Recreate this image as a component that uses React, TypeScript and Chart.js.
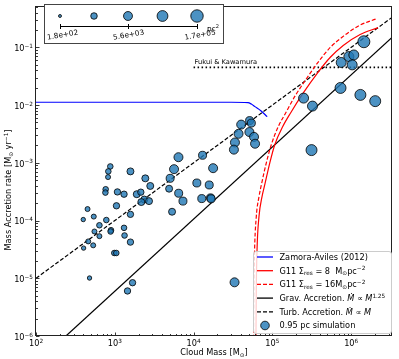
import React, { useEffect, useRef } from 'react';
import { Chart, registerables } from 'chart.js';

Chart.register(...registerables);

// ---------------- data ----------------
const X_MIN = 100;
const X_MAX = 3.3e6;
const Y_MIN = 1e-6;
const Y_MAX = 0.5;

const xTickExps = [2, 3, 4, 5, 6];
const yTickExps = [-6, -5, -4, -3, -2, -1];

const zamoraMass = [100, 3e4, 4.9e4, 5.4e4, 6.0e4, 7.2e4, 8.6e4];
const zamoraRate = [0.0112, 0.0112, 0.0110, 0.0104, 0.0094, 0.0079, 0.0063];

const g11Res8Mass = [6.19e4, 6.25e4, 6.38e4, 6.76e4, 7.38e4, 8.05e4, 9.31e4, 1.075e5, 1.355e5, 1.71e5, 2.42e5, 3.73e5, 5.44e5, 7.93e5, 1.3e6, 2.19e6];
const g11Res8Rate = [9e-7, 6.0e-6, 2.93e-5, 1.17e-4, 2.57e-4, 4.3e-4, 1.02e-3, 2.08e-3, 4.25e-3, 7.38e-3, 1.56e-2, 3.58e-2, 6.73e-2, 0.108, 0.167, 0.22];

const g11Res16Mass = [5.77e4, 5.82e4, 5.94e4, 6.25e4, 6.76e4, 7.38e4, 8.41e4, 9.71e4, 1.19e5, 1.48e5, 1.98e5, 2.64e5, 3.73e5, 5.44e5, 7.93e5, 1.26e6, 2.12e6];
const g11Res16Rate = [9e-7, 6.0e-6, 2.93e-5, 1.17e-4, 2.57e-4, 4.65e-4, 1.02e-3, 2.08e-3, 4.25e-3, 7.38e-3, 1.5e-2, 2.72e-2, 5.32e-2, 0.1, 0.155, 0.238, 0.314];

const gravMass = [240, 3.3e6];
const gravRate = [1e-6, 0.148];

const turbMass = [100, 3.3e6];
const turbRate = [1e-5, 0.33];

const fukuiMass = [1e4, 3.3e6];
const fukuiRate = [0.045, 0.045];

// 0.95 pc simulation: mass [Msun], accretion rate [Msun/yr], area [pc^2]
const simMass = [
  877, 828, 821, 1580, 6430, 1.3e4, 5650, 1.77e4, 2440, 5040,
  2820, 766, 760, 1080, 1310, 1900, 2140, 4890, 6470, 1.1e4,
  1.58e4, 2370, 2170, 2720, 7330, 1.27e4, 1.64e4, 1.67e4, 1050, 5330,
  1580, 451, 541, 398, 781, 638, 1310, 552, 895, 885,
  1330, 460, 638, 532, 402, 1580, 986, 1045, 478, 1680,
  1450, 3.31e4, 4.02e4, 5.14e4, 5.41e4, 3.72e4, 5.11e4, 5.85e4, 3.35e4, 6.03e4,
  3.25e4, 2.49e5, 3.23e5, 3.14e5, 7.33e5, 1.31e6, 2.02e6, 1.45e6, 7.48e5, 9.35e5,
  1.08e6, 1.03e6,
];
const simRate = [
  8.65e-4, 7.1e-4, 5.66e-4, 7.1e-4, 1.25e-3, 1.35e-3, 7.76e-4, 8.07e-4, 5.38e-4, 5.38e-4,
  3.97e-4, 3.48e-4, 3.05e-4, 3.13e-4, 2.86e-4, 2.86e-4, 3.1e-4, 3.56e-4, 2.97e-4, 4.47e-4,
  4.13e-4, 2.31e-4, 2.09e-4, 2.17e-4, 2.17e-4, 2.4e-4, 2.47e-4, 2.38e-4, 1.8e-4, 1.42e-4,
  1.28e-4, 1.58e-4, 1.17e-4, 1.04e-4, 1.02e-4, 8.28e-5, 7.47e-5, 6.46e-5, 6.8e-5, 6.46e-5,
  5.51e-5, 4.35e-5, 5.36e-5, 3.72e-5, 3.33e-5, 4.23e-5, 2.74e-5, 2.74e-5, 1.01e-5, 8.38e-6,
  6.03e-6, 8.51e-6, 4.59e-3, 5.38e-3, 4.88e-3, 3.18e-3, 3.41e-3, 2.81e-3, 2.25e-3, 2.14e-3,
  1.69e-3, 1.32e-2, 9.6e-3, 1.66e-3, 1.98e-2, 1.5e-2, 1.17e-2, 0.125, 0.0547, 0.0692,
  0.0738, 0.0497,
];
const simArea = [
  570, 570, 420, 1330, 5900, 2700, 5900, 5900, 1330, 2700,
  1330, 570, 570, 900, 900, 1330, 900, 1330, 2700, 2700,
  2700, 1330, 1330, 1330, 2700, 2700, 2700, 2700, 900, 1330,
  900, 420, 420, 314, 570, 570, 570, 420, 570, 570,
  570, 420, 420, 420, 314, 900, 570, 570, 314, 900,
  900, 5900, 5900, 2700, 2700, 5900, 5900, 5900, 5900, 5900,
  5900, 14000, 14000, 36000, 36000, 36000, 36000, 1e5, 14000, 14000,
  14000, 14000,
];

const sizeLegendValues = [180, 1000, 5600, 31000, 170000];
const sizeLegendLabels = ['1.8e+02', '5.6e+03', '1.7e+05'];

// ---------------- styling helpers ----------------
const FONT = '"DejaVu Sans", sans-serif';
const PT_FILL = 'rgba(31,119,180,0.8)';
const PT_EDGE = 'rgba(0,0,0,0.8)';

const radiusOf = (a: number) => Math.sqrt(4 + 13.9 * (Math.log10(a) - 2.26));

type Seg = { t: string; k?: 'sub' | 'sup'; it?: boolean };

function setFont(ctx: CanvasRenderingContext2D, s: Seg, size: number) {
  const fs = s.k ? size * 0.7 : size;
  ctx.font = `${s.it ? 'italic ' : ''}${fs}px ${FONT}`;
}

function richWidth(ctx: CanvasRenderingContext2D, segs: Seg[], size: number) {
  let w = 0;
  for (const s of segs) {
    setFont(ctx, s, size);
    w += ctx.measureText(s.t).width;
  }
  return w;
}

function drawRich(
  ctx: CanvasRenderingContext2D,
  segs: Seg[],
  x: number,
  cy: number,
  size: number,
  align: 'left' | 'center' | 'right',
  color = '#000'
) {
  const w = richWidth(ctx, segs, size);
  let cx = align === 'left' ? x : align === 'center' ? x - w / 2 : x - w;
  const base = cy + size * 0.36;
  ctx.fillStyle = color;
  ctx.textAlign = 'left';
  ctx.textBaseline = 'alphabetic';
  for (const s of segs) {
    setFont(ctx, s, size);
    const dy = s.k === 'sub' ? size * 0.22 : s.k === 'sup' ? -size * 0.42 : 0;
    ctx.fillText(s.t, cx, base + dy);
    cx += ctx.measureText(s.t).width;
  }
}

const sup = (n: number) => (n < 0 ? '\u2212' + Math.abs(n) : String(n));

const legendItems: { segs: Seg[]; color: string; dash: number[]; marker?: boolean }[] = [
  { segs: [{ t: 'Zamora-Aviles (2012)' }], color: '#0000ff', dash: [] },
  {
    segs: [{ t: 'G11 \u03A3' }, { t: 'res', k: 'sub' }, { t: ' = 8  M' }, { t: '\u2299', k: 'sub' }, { t: 'pc' }, { t: '\u22122', k: 'sup' }],
    color: '#ff0000',
    dash: [],
  },
  {
    segs: [{ t: 'G11 \u03A3' }, { t: 'res', k: 'sub' }, { t: ' = 16M' }, { t: '\u2299', k: 'sub' }, { t: 'pc' }, { t: '\u22122', k: 'sup' }],
    color: '#ff0000',
    dash: [4, 2],
  },
  {
    segs: [{ t: 'Grav. Accretion. ' }, { t: 'M\u0307', it: true }, { t: ' \u221D ' }, { t: 'M', it: true }, { t: '1.25', k: 'sup' }],
    color: '#000',
    dash: [],
  },
  {
    segs: [{ t: 'Turb. Accretion. ' }, { t: 'M\u0307', it: true }, { t: ' \u221D ' }, { t: 'M', it: true }],
    color: '#000',
    dash: [4, 2],
  },
  { segs: [{ t: '0.95 pc simulation' }], color: PT_FILL, dash: [], marker: true },
];

function roundRect(ctx: CanvasRenderingContext2D, x: number, y: number, w: number, h: number, r: number) {
  ctx.beginPath();
  ctx.moveTo(x + r, y);
  ctx.lineTo(x + w - r, y);
  ctx.quadraticCurveTo(x + w, y, x + w, y + r);
  ctx.lineTo(x + w, y + h - r);
  ctx.quadraticCurveTo(x + w, y + h, x + w - r, y + h);
  ctx.lineTo(x + r, y + h);
  ctx.quadraticCurveTo(x, y + h, x, y + h - r);
  ctx.lineTo(x, y + r);
  ctx.quadraticCurveTo(x, y, x + r, y);
  ctx.closePath();
}

const decorPlugin = {
  id: 'decor',
  afterDraw(chart: any) {
    const ctx: CanvasRenderingContext2D = chart.ctx;
    const xs = chart.scales.x;
    const ys = chart.scales.y;
    const { left, right, top, bottom } = chart.chartArea;
    ctx.save();

    // minor / major ticks (inward, left & bottom)
    ctx.strokeStyle = '#222';
    ctx.lineWidth = 0.9;
    ctx.beginPath();
    for (let e = Math.floor(Math.log10(X_MIN)); e <= Math.ceil(Math.log10(X_MAX)); e++) {
      for (let k = 1; k <= 9; k++) {
        const v = k * Math.pow(10, e);
        if (v < X_MIN * 0.999 || v > X_MAX) continue;
        const px = Math.round(xs.getPixelForValue(v)) + 0.5;
        const len = k === 1 ? 3.5 : 2;
        ctx.moveTo(px, bottom);
        ctx.lineTo(px, bottom - len);
      }
    }
    for (let e = Math.floor(Math.log10(Y_MIN)); e <= Math.ceil(Math.log10(Y_MAX)); e++) {
      for (let k = 1; k <= 9; k++) {
        const v = k * Math.pow(10, e);
        if (v < Y_MIN * 0.999 || v > Y_MAX) continue;
        const py = Math.round(ys.getPixelForValue(v)) + 0.5;
        const len = k === 1 ? 3.5 : 2;
        ctx.moveTo(left, py);
        ctx.lineTo(left + len, py);
      }
    }
    ctx.stroke();

    // frame
    ctx.strokeStyle = '#222';
    ctx.lineWidth = 1;
    ctx.strokeRect(Math.round(left) - 0.5, Math.round(top) - 0.5, Math.round(right - left), Math.round(bottom - top));

    // tick labels
    const fs = 8.2;
    for (const e of xTickExps) {
      const px = xs.getPixelForValue(Math.pow(10, e));
      drawRich(ctx, [{ t: '10' }, { t: sup(e), k: 'sup' }], px, bottom + 7.5, fs, 'center');
    }
    for (const e of yTickExps) {
      const py = ys.getPixelForValue(Math.pow(10, e));
      drawRich(ctx, [{ t: '10' }, { t: sup(e), k: 'sup' }], left - 3, py + 1, fs, 'right');
    }

    // axis titles
    drawRich(ctx, [{ t: 'Cloud Mass [M' }, { t: '\u2299', k: 'sub' }, { t: ']' }], (left + right) / 2, 352, fs, 'center');
    ctx.save();
    ctx.translate(8.5, 190);
    ctx.rotate(-Math.PI / 2);
    drawRich(
      ctx,
      [{ t: 'Mass Accretion rate [M' }, { t: '\u2299', k: 'sub' }, { t: ' yr' }, { t: '\u22121', k: 'sup' }, { t: ']' }],
      0,
      0,
      fs,
      'center'
    );
    ctx.restore();

    // Fukui & Kawamura label
    drawRich(
      ctx,
      [{ t: 'Fukui & Kawamura' }],
      xs.getPixelForValue(fukuiMass[0]) + 1,
      ys.getPixelForValue(fukuiRate[0]) - 6,
      6.7,
      'left'
    );

    // size legend (top-left)
    const bx = 44, by = 4, bw = 179, bh = 39;
    ctx.fillStyle = '#fff';
    ctx.fillRect(bx, by, bw, bh);
    ctx.strokeStyle = '#444';
    ctx.lineWidth = 1;
    ctx.strokeRect(bx + 0.5, by + 0.5, bw, bh);
    const cxs = [60, 94, 128, 162.5, 197];
    sizeLegendValues.forEach((v, i) => {
      ctx.beginPath();
      ctx.arc(cxs[i], 16, radiusOf(v) - 0.5, 0, Math.PI * 2);
      ctx.fillStyle = PT_FILL;
      ctx.fill();
      ctx.strokeStyle = PT_EDGE;
      ctx.lineWidth = 1;
      ctx.stroke();
    });
    ctx.strokeStyle = '#000';
    ctx.lineWidth = 1;
    ctx.beginPath();
    ctx.moveTo(60, 26.5);
    ctx.lineTo(197, 26.5);
    for (const tx of [60, 128, 197]) {
      ctx.moveTo(tx + 0.5, 24);
      ctx.lineTo(tx + 0.5, 29);
    }
    ctx.stroke();
    const lblX = [62.5, 128.5, 200];
    sizeLegendLabels.forEach((s, i) => {
      ctx.save();
      ctx.translate(lblX[i], 34.5);
      ctx.rotate(-10 * Math.PI / 180);
      drawRich(ctx, [{ t: s }], 0, 0, 7.3, 'center');
      ctx.restore();
    });
    drawRich(ctx, [{ t: 'pc' }, { t: '2', k: 'sup' }], 207, 28, 7.3, 'left');

    // main legend (bottom-right)
    const lx = 253, ly = 251, lw = 138, lh = 82;
    roundRect(ctx, lx + 0.5, ly + 0.5, lw, lh, 2.5);
    ctx.fillStyle = 'rgba(255,255,255,0.8)';
    ctx.fill();
    ctx.strokeStyle = '#cccccc';
    ctx.lineWidth = 1;
    ctx.stroke();
    legendItems.forEach((it, i) => {
      const cy = 257 + i * 13.7;
      if (it.marker) {
        ctx.beginPath();
        ctx.arc(265, cy, 4.3, 0, Math.PI * 2);
        ctx.fillStyle = PT_FILL;
        ctx.fill();
        ctx.strokeStyle = PT_EDGE;
        ctx.lineWidth = 1;
        ctx.stroke();
      } else {
        ctx.beginPath();
        ctx.setLineDash(it.dash);
        ctx.strokeStyle = it.color;
        ctx.lineWidth = 1.3;
        ctx.moveTo(257, cy);
        ctx.lineTo(273, cy);
        ctx.stroke();
        ctx.setLineDash([]);
      }
      drawRich(ctx, it.segs, 279.5, cy, fs, 'left');
    });

    ctx.restore();
  },
};

const toXY = (xs: number[], ys: number[]) => xs.map((x, i) => ({ x, y: ys[i] }));

const lineDs = (label: string, xs: number[], ys: number[], color: string, dash: number[], width = 1.2, smooth = false) => ({
  label,
  data: toXY(xs, ys),
  showLine: true,
  borderColor: color,
  backgroundColor: color,
  borderWidth: width,
  borderDash: dash,
  pointRadius: 0,
  fill: false,
  tension: 0,
  cubicInterpolationMode: smooth ? 'monotone' : 'default',
});

export default function App() {
  const ref = useRef<HTMLCanvasElement | null>(null);

  useEffect(() => {
    if (!ref.current) return;
    const chart = new Chart(ref.current, {
      type: 'scatter',
      data: {
        datasets: [
          {
            label: '0.95 pc simulation',
            data: toXY(simMass, simRate),
            backgroundColor: PT_FILL,
            borderColor: PT_EDGE,
            borderWidth: 1,
            pointRadius: (c: any) => radiusOf(simArea[c.dataIndex]) - 0.5,
            pointHoverRadius: (c: any) => radiusOf(simArea[c.dataIndex]) - 0.5,
          } as any,
          lineDs('Zamora-Aviles (2012)', zamoraMass, zamoraRate, '#0000ff', [], 1.2, true),
          lineDs('G11 8', g11Res8Mass, g11Res8Rate, '#ff0000', [], 1.2, true),
          lineDs('G11 16', g11Res16Mass, g11Res16Rate, '#ff0000', [4, 2], 1.2, true),
          lineDs('Grav', gravMass, gravRate, '#000000', []),
          lineDs('Turb', turbMass, turbRate, '#000000', [4, 2]),
          lineDs('Fukui & Kawamura', fukuiMass, fukuiRate, '#000000', [1.5, 2.5], 1.6),
        ],
      },
      options: {
        animation: false,
        responsive: false,
        events: [],
        layout: { padding: { top: 3, right: 4, left: 0, bottom: 0 } },
        plugins: { legend: { display: false }, tooltip: { enabled: false }, title: { display: false } },
        scales: {
          x: {
            type: 'logarithmic',
            min: X_MIN,
            max: X_MAX,
            grid: { display: false, drawTicks: false },
            border: { display: false },
            ticks: { display: false },
            afterFit: (s: any) => {
              s.height = 23;
            },
          },
          y: {
            type: 'logarithmic',
            min: Y_MIN,
            max: Y_MAX,
            grid: { display: false, drawTicks: false },
            border: { display: false },
            ticks: { display: false },
            afterFit: (s: any) => {
              s.width = 36;
            },
          },
        },
      } as any,
      plugins: [decorPlugin],
    });
    return () => chart.destroy();
  }, []);

  return (
    <div style={{ position: 'fixed', left: 0, top: 0, width: 399, height: 359, background: '#fff' }}>
      <canvas ref={ref} width={399} height={359} style={{ display: 'block', width: 399, height: 359 }} />
    </div>
  );
}
